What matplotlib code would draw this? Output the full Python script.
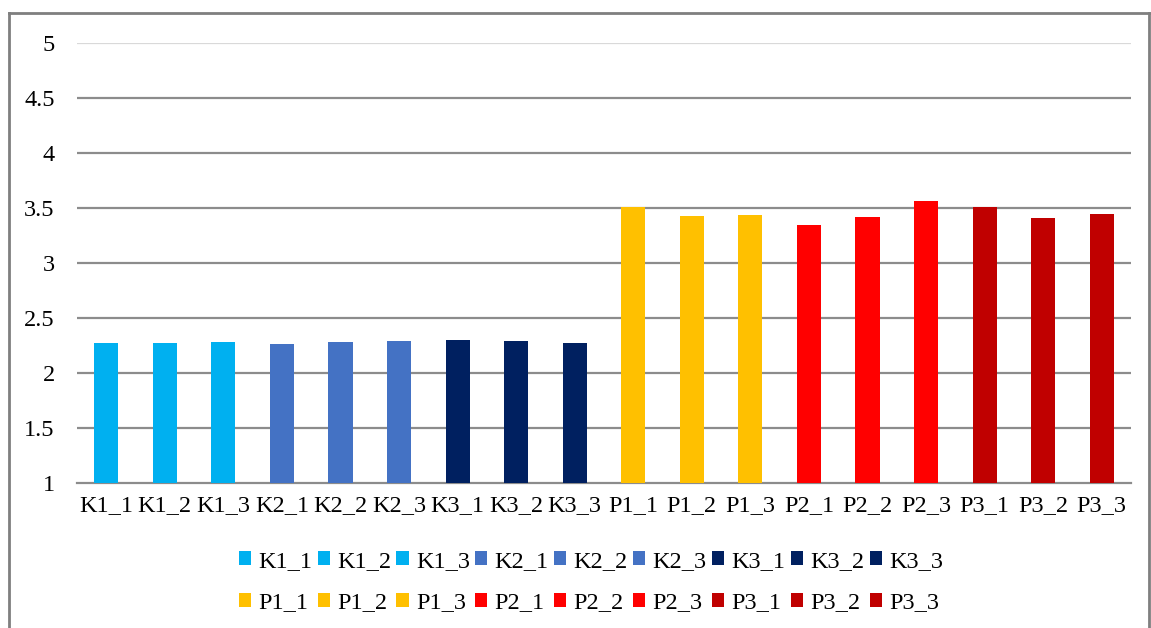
import matplotlib.pyplot as plt
from matplotlib.lines import Line2D

plt.rcParams['font.family'] = ['Liberation Serif', 'DejaVu Serif']

# sample names and mean values
labels = ['K1_1', 'K1_2', 'K1_3', 'K2_1', 'K2_2', 'K2_3', 'K3_1', 'K3_2', 'K3_3',
          'P1_1', 'P1_2', 'P1_3', 'P2_1', 'P2_2', 'P2_3', 'P3_1', 'P3_2', 'P3_3']
values = [2.27, 2.27, 2.28, 2.26, 2.285, 2.29, 2.30, 2.295, 2.27,
          3.51, 3.43, 3.44, 3.35, 3.42, 3.565, 3.51, 3.41, 3.45]
group_colors = ['#00B0F0', '#4472C4', '#002060', '#FFC000', '#FF0000', '#C00000']
colors = [c for c in group_colors for _ in range(3)]

W, H = 1151, 628
fig = plt.figure(figsize=(W / 100, H / 100), dpi=100)
ax = fig.add_axes([77 / W, 1 - 483 / H, (1131 - 77) / W, (483 - 43) / H])

bars = []
for i, (lab, v, c) in enumerate(zip(labels, values, colors)):
    # bars start at the axis floor of 1
    b = ax.bar(i, v - 1, bottom=1, width=0.41, color=c, label=lab, zorder=3)
    bars.append(b)

ax.set_xlim(-0.5, len(labels) - 0.5)
ax.set_ylim(1, 5)
ax.set_yticks([1, 1.5, 2, 2.5, 3, 3.5, 4, 4.5, 5])
ax.set_yticklabels(['1', '1.5', '2', '2.5', '3', '3.5', '4', '4.5', '5'])
ax.set_xticks(range(len(labels)))
ax.set_xticklabels(labels)
ax.tick_params(axis='both', length=0, labelsize=17.5, colors='black')
ax.tick_params(axis='y', pad=16)
ax.tick_params(axis='x', pad=9)

for y in [1.5, 2, 2.5, 3, 3.5, 4, 4.5]:
    ax.axhline(y, color='#8C8C8C', lw=1.6, zorder=1)
ax.axhline(5, color='#D9D9D9', lw=1.6, zorder=1)
for s in ['top', 'right', 'left']:
    ax.spines[s].set_visible(False)
ax.spines['bottom'].set_color('#8C8C8C')
ax.spines['bottom'].set_linewidth(1.6)

# legend: two rows, K groups on top, P groups below
order = []
for k in range(9):
    order.append(k)
    order.append(k + 9)
handles = [bars[k] for k in order]
leg_labels = [labels[k] for k in order]
fig.legend(handles, leg_labels, loc='center', bbox_to_anchor=(591 / W, 1 - 582 / H),
           ncol=9, frameon=False, fontsize=17.5, handlelength=0.5, handleheight=0.5,
           handletextpad=0.3, columnspacing=0.22, labelspacing=0.85, borderpad=0)

# outer chart frame
fc = '#7F7F7F'
fig.add_artist(Line2D([9 / W, 9 / W], [0, 1 - 13 / H], transform=fig.transFigure, color=fc, lw=2))
fig.add_artist(Line2D([9 / W, 1149 / W], [1 - 13 / H, 1 - 13 / H], transform=fig.transFigure, color=fc, lw=2))
fig.add_artist(Line2D([1149 / W, 1149 / W], [0, 1 - 13 / H], transform=fig.transFigure, color=fc, lw=2))

fig.savefig('out.png', dpi=100)
